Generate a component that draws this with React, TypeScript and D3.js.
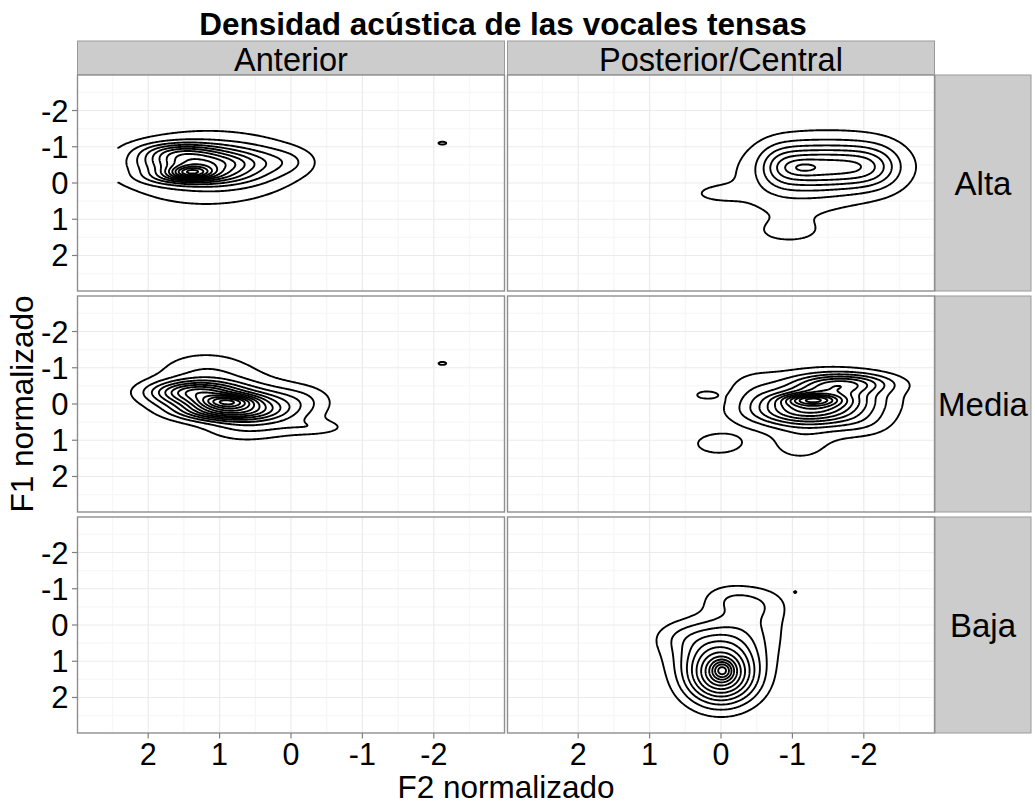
import React, { useMemo } from "react";
import * as d3 from "d3";

// ---- Text ----
const title = "Densidad acústica de las vocales tensas";
const columnLabels = ["Anterior", "Posterior/Central"];
const rowLabels = ["Alta", "Media", "Baja"];
const xLabel = "F2 normalizado";
const yLabel = "F1 normalizado";

// ---- Axes ----
const xTicks = [2, 1, 0, -1, -2];
const yTicks = [-2, -1, 0, 1, 2];
const xMinor = [2.5, 1.5, 0.5, -0.5, -1.5, -2.5];
const yMinor = [-2.5, -1.5, -0.5, 0.5, 1.5, 2.5];
const xDomain = [2.99, -2.99];
const yDomain = [-2.98, 2.98];

// ---- Kernel density, as Gaussian components ----
// each row: [F2 centre, F1 centre, F2 spread, F1 spread, correlation, height]
// heights are in contour-step units, so the contour levels are 1, 2, 3, ...
const altaAnterior = [
  [1.55, -0.85, 0.38, 0.18, 0, 4.0],
  [1.45, -0.55, 0.45, 0.18, 0, 4.0],
  [1.45, -0.2, 0.42, 0.17, 0, 4.0],
  [1.4, -0.3, 0.2, 0.12, 0, 5.1],
  [0.95, -0.5, 0.35, 0.32, 0, 2.5],
  [0.45, -0.55, 0.35, 0.33, 0, 1.4],
  [0.0, -0.6, 0.25, 0.25, 0, 0.8],
  [1.2, -0.42, 0.8, 0.65, 0, 1.6],
  [1.2, -0.42, 1.0, 0.85, 0, 1.0],
  [-2.12, -1.1, 0.09, 0.065, 0, 1.2],
];
const altaPosterior = [
  [-0.8, -0.45, 0.2, 0.4, 0, 2.2],
  [-1.05, -0.45, 0.2, 0.4, 0, 2.2],
  [-1.3, -0.45, 0.2, 0.4, 0, 2.2],
  [-1.55, -0.45, 0.2, 0.4, 0, 2.2],
  [-1.8, -0.45, 0.2, 0.4, 0, 2.2],
  [-2.05, -0.45, 0.2, 0.4, 0, 2.2],
  [-2.3, -0.45, 0.2, 0.4, 0, 1.3],
  [-1.15, -0.42, 0.15, 0.12, 0, 0.8],
  [-1.5, -0.45, 0.95, 0.75, 0, 2.0],
  [-0.9, 0.4, 0.6, 0.6, 0, 0.7],
  [0.1, 0.3, 0.3, 0.2, 0, 0.8],
  [-0.95, 1.4, 0.5, 0.33, 0, 0.95],
];
const mediaAnterior = [
  [1.35, -0.35, 0.42, 0.2, 0, 5.5],
  [0.9, 0.2, 0.45, 0.18, 0, 5.5],
  [1.1, -0.08, 0.5, 0.2, 0, 3.0],
  [0.88, -0.07, 0.25, 0.12, 0, 4.8],
  [0.4, 0.0, 0.4, 0.3, 0, 2.2],
  [-0.2, -0.1, 0.3, 0.3, 0, 1.0],
  [-0.4, 0.65, 0.28, 0.14, 0, 1.0],
  [0.1, 0.55, 0.4, 0.25, 0, 0.8],
  [0.7, 0.62, 0.35, 0.3, 0, 1.0],
  [0.85, -0.2, 0.75, 0.7, -0.25, 1.8],
  [1.2, -0.9, 0.42, 0.4, 0, 1.0],
  [-2.12, -1.12, 0.09, 0.07, 0, 1.2],
];
const mediaPosterior = [
  [-1.7, -0.55, 0.45, 0.2, 0, 5.0],
  [-1.2, 0.25, 0.55, 0.25, 0, 5.0],
  [-1.35, -0.1, 0.5, 0.22, 0, 5.0],
  [-1.27, -0.12, 0.25, 0.1, 0, 3.9],
  [-1.4, -0.15, 0.8, 0.7, 0, 1.6],
  [-0.45, -0.45, 0.28, 0.35, 0, 0.8],
  [-1.1, 1.25, 0.3, 0.28, 0, 1.0],
  [-1.2, 0.75, 0.4, 0.3, 0, 0.8],
  [-2.0, 0.6, 0.3, 0.25, 0, 0.8],
  [0.22, -0.25, 0.12, 0.09, 0, 1.25],
  [0.04, 1.1, 0.3, 0.26, 0, 1.5],
];
const bajaAnterior: number[][] = [];
const bajaPosterior = [
  [0.0, 1.4, 0.35, 0.55, 0, 8.5],
  [-0.02, 1.25, 0.1, 0.18, 0, 3.3],
  [0.05, 0.6, 0.5, 0.5, 0, 2.5],
  [-0.3, 0.0, 0.45, 0.45, 0, 1.2],
  [-0.55, -0.6, 0.3, 0.35, 0, 1.3],
  [-0.1, -0.75, 0.28, 0.3, 0, 1.3],
  [0.55, 0.3, 0.3, 0.3, 0, 0.8],
  [-1.04, -0.91, 0.02, 0.03, 0, 1.1],
];

// data range of each panel (kde grid limits): [F2 min, F2 max, F1 min, F1 max]
const fullRange = [-2.99, 2.99, -2.98, 2.98];
const altaAnteriorRange = [-2.3, 2.42, -2.2, 1.6];

const panels = [
  { row: 0, col: 0, comps: altaAnterior, range: altaAnteriorRange },
  { row: 0, col: 1, comps: altaPosterior, range: fullRange },
  { row: 1, col: 0, comps: mediaAnterior, range: fullRange },
  { row: 1, col: 1, comps: mediaPosterior, range: fullRange },
  { row: 2, col: 0, comps: bajaAnterior, range: fullRange },
  { row: 2, col: 1, comps: bajaPosterior, range: fullRange },
];

// ---- Layout ----
const W = 1035;
const H = 804;
const colX = [77.5, 507.5];
const panelW = 427;
const rowY = [75, 296, 517];
const panelH = 216;
const stripTop = 41;
const stripRightX = 935;
const stripRightW = 96;
const font = "'Liberation Sans', Arial, Helvetica, sans-serif";

type Pt = [number, number];

function densityLines(comps: number[][], range: number[], res = 0.02) {
  const [x0, x1, y0, y1] = range;
  const nx = Math.round((x1 - x0) / res);
  const ny = Math.round((y1 - y0) / res);
  const dx = (x1 - x0) / nx;
  const dy = (y1 - y0) / ny;
  const values = new Float64Array(nx * ny);
  for (let j = 0; j < ny; j++) {
    const y = y0 + (j + 0.5) * dy;
    for (let i = 0; i < nx; i++) {
      const x = x0 + (i + 0.5) * dx;
      let s = 0;
      for (const [cx, cy, sx, sy, r, w] of comps) {
        const u = (x - cx) / sx;
        const v = (y - cy) / sy;
        s += w * Math.exp((-0.5 * (u * u - 2 * r * u * v + v * v)) / (1 - r * r));
      }
      values[j * nx + i] = s;
    }
  }
  const max = d3.max(values) ?? 0;
  if (max < 1) return [] as { pts: Pt[]; closed: boolean }[];
  const thresholds = d3.range(1, Math.floor(max) + 1);
  const contours = d3.contours().size([nx, ny]).thresholds(thresholds)(Array.from(values));
  const toData = (p: number[]): Pt => [x0 + p[0] * dx, y0 + p[1] * dy];
  const onEdge = (p: number[]) => p[0] === 0 || p[0] === nx || p[1] === 0 || p[1] === ny;
  const out: { pts: Pt[]; closed: boolean }[] = [];
  for (const c of contours) {
    for (const poly of c.coordinates) {
      for (const ring of poly) {
        const n = ring.length - 1;
        const cut: boolean[] = [];
        for (let k = 0; k < n; k++) cut.push(onEdge(ring[k]) && onEdge(ring[k + 1]));
        if (!cut.some(Boolean)) {
          out.push({ pts: ring.map(toData), closed: true });
          continue;
        }
        // open the line where it runs along the edge of the grid
        const start = cut.indexOf(true);
        let cur: Pt[] = [];
        for (let s = 1; s <= n; s++) {
          const k = (start + s) % n;
          if (cut[k]) {
            if (cur.length > 1) out.push({ pts: cur, closed: false });
            cur = [];
          } else {
            if (cur.length === 0) cur.push(toData(ring[k]));
            cur.push(toData(ring[k + 1]));
          }
        }
        if (cur.length > 1) out.push({ pts: cur, closed: false });
      }
    }
  }
  return out;
}

function Panel({ row, col, comps, range }: { row: number; col: number; comps: number[][]; range: number[] }) {
  const left = colX[col];
  const top = rowY[row];
  const x = d3.scaleLinear().domain(xDomain).range([left, left + panelW]);
  const y = d3.scaleLinear().domain(yDomain).range([top, top + panelH]);
  const lines = useMemo(() => densityLines(comps, range), [comps, range]);
  const line = d3
    .line<Pt>()
    .x((d) => x(d[0]))
    .y((d) => y(d[1]));
  const clipId = `clip-${row}-${col}`;
  return (
    <g>
      <defs>
        <clipPath id={clipId}>
          <rect x={left} y={top} width={panelW} height={panelH} />
        </clipPath>
      </defs>
      <rect x={left} y={top} width={panelW} height={panelH} fill="#ffffff" />
      {xMinor.map((t) => (
        <line key={`xm${t}`} x1={x(t)} x2={x(t)} y1={top} y2={top + panelH} stroke="#f7f7f7" strokeWidth={1.4} />
      ))}
      {yMinor.map((t) => (
        <line key={`ym${t}`} x1={left} x2={left + panelW} y1={y(t)} y2={y(t)} stroke="#f7f7f7" strokeWidth={1.4} />
      ))}
      {xTicks.map((t) => (
        <line key={`xM${t}`} x1={x(t)} x2={x(t)} y1={top} y2={top + panelH} stroke="#ebebeb" strokeWidth={1.2} />
      ))}
      {yTicks.map((t) => (
        <line key={`yM${t}`} x1={left} x2={left + panelW} y1={y(t)} y2={y(t)} stroke="#ebebeb" strokeWidth={1.2} />
      ))}
      <g clipPath={`url(#${clipId})`}>
        {lines.map((l, i) => (
          <path
            key={i}
            d={(line(l.pts) ?? "") + (l.closed ? "Z" : "")}
            fill="none"
            stroke="#000000"
            strokeWidth={1.9}
            strokeLinejoin="round"
            strokeLinecap="round"
          />
        ))}
      </g>
      <rect x={left} y={top} width={panelW} height={panelH} fill="none" stroke="#8f8f8f" strokeWidth={1.4} />
      {col === 0 &&
        yTicks.map((t) => (
          <g key={`yt${t}`}>
            <line x1={left - 5.5} x2={left} y1={y(t)} y2={y(t)} stroke="#7f7f7f" strokeWidth={1.2} />
            <text x={left - 9} y={y(t) + 11} textAnchor="end" fontSize={31} fontFamily={font} fill="#000">
              {t}
            </text>
          </g>
        ))}
      {row === 2 &&
        xTicks.map((t) => (
          <g key={`xt${t}`}>
            <line x1={x(t)} x2={x(t)} y1={top + panelH} y2={top + panelH + 5.5} stroke="#7f7f7f" strokeWidth={1.2} />
            <text x={x(t)} y={765} textAnchor="middle" fontSize={30.5} fontFamily={font} fill="#000">
              {t}
            </text>
          </g>
        ))}
    </g>
  );
}

export default function App() {
  return (
    <svg width={W} height={H} style={{ position: "absolute", left: 0, top: 0, background: "#fff" }}>
      <rect width={W} height={H} fill="#ffffff" />
      <text x={503} y={34.5} textAnchor="middle" fontSize={31.5} fontWeight="bold" fontFamily={font} fill="#000">
        {title}
      </text>
      {columnLabels.map((lab, c) => (
        <g key={lab}>
          <rect x={colX[c]} y={stripTop} width={panelW} height={rowY[0] - stripTop} fill="#cccccc" stroke="#9a9a9a" strokeWidth={1} />
          <text x={colX[c] + panelW / 2} y={70.5} textAnchor="middle" fontSize={32.5} fontFamily={font} fill="#000">
            {lab}
          </text>
        </g>
      ))}
      {rowLabels.map((lab, r) => (
        <g key={lab}>
          <rect x={stripRightX} y={rowY[r]} width={stripRightW} height={panelH} fill="#cccccc" stroke="#9a9a9a" strokeWidth={1} />
          <text
            x={stripRightX + stripRightW / 2}
            y={rowY[r] + panelH / 2 + 12}
            textAnchor="middle"
            fontSize={33}
            fontFamily={font}
            fill="#000"
          >
            {lab}
          </text>
        </g>
      ))}
      {panels.map((p) => (
        <Panel key={`${p.row}-${p.col}`} {...p} />
      ))}
      <text x={506} y={797.5} textAnchor="middle" fontSize={31.5} fontFamily={font} fill="#000">
        {xLabel}
      </text>
      <text
        transform={`translate(33, ${rowY[1] + panelH / 2}) rotate(-90)`}
        textAnchor="middle"
        fontSize={31.5}
        fontFamily={font}
        fill="#000"
      >
        {yLabel}
      </text>
    </svg>
  );
}
